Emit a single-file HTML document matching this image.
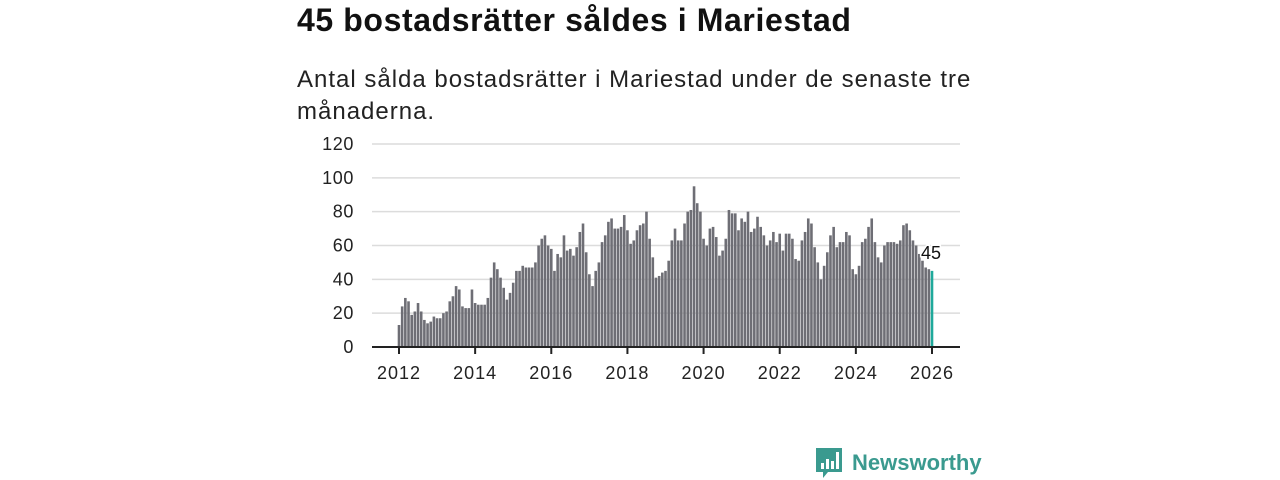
<!DOCTYPE html>
<html><head><meta charset="utf-8">
<style>
body{margin:0;width:1280px;height:480px;background:#fff;font-family:"Liberation Sans","DejaVu Sans",sans-serif;overflow:hidden;position:relative}
#title{position:absolute;left:297px;top:2px;font-size:32px;letter-spacing:0.6px;font-weight:bold;color:#111;margin:0}
#sub{position:absolute;left:297px;top:64px;font-size:24px;letter-spacing:1px;line-height:32px;color:#222;width:700px}
svg{position:absolute;left:0;top:0}
</style></head><body>
<h1 id="title">45 bostadsrätter såldes i Mariestad</h1>
<div id="sub">Antal sålda bostadsrätter i Mariestad under de senaste tre månaderna.</div>
<svg id="chart" width="1280" height="480"></svg>
<script>
const yTicks=[0,20,40,60,80,100,120];
const xTicks=[2012,2014,2016,2018,2020,2022,2024,2026];
const startYear=2012;
const values=[13,24,29,27,19,21,26,21,16,14,15,18,17,17,20,21,27,30,36,34,24,23,23,34,26,25,25,25,29,41,50,46,41,35,28,32,38,45,45,48,47,47,47,50,60,64,66,60,58,45,55,53,66,57,
58,54,59,68,73,56,43,36,45,50,62,66,74,76,70,70,71,78,69,61,63,69,72,73,80,64,53,41,42,44,45,51,63,70,63,63,73,80,81,95,85,80,64,60,70,71,65,54,57,64,81,79,79,69,76,74,80,68,70,77,
71,66,60,63,68,62,67,57,67,67,64,52,51,63,68,76,73,59,50,40,48,56,66,71,59,62,62,68,66,46,43,48,62,64,71,76,62,53,50,60,62,62,62,61,63,72,73,69,63,60,55,51,47,46,45];
const NS="http://www.w3.org/2000/svg";
const svg=document.getElementById('chart');
const x0=399,pxYear=(932-399)/14,y0=347,pxUnit=(347-144)/120;
const xs=i=>x0+i*pxYear/12;
const ys=v=>y0-v*pxUnit;
function el(t,a,txt){const e=document.createElementNS(NS,t);for(const k in a)e.setAttribute(k,a[k]);if(txt!==undefined)e.textContent=txt;svg.appendChild(e);return e;}
yTicks.forEach(t=>{
 const g=el('line',{x1:372,x2:960,y1:ys(t),y2:ys(t),stroke:'#dcdcdc','stroke-width':1.5});
 
 
 const l=el('text',{x:354,y:ys(t)+6,'text-anchor':'end','font-size':18,'letter-spacing':0.6,fill:'#222'},t);
 
 
});
values.forEach((v,i)=>{
 const last=i===values.length-1;
 const b=el('rect',{x:xs(i)-1.3,y:ys(v),width:2.6,height:v*pxUnit,fill:last?'#1fa99b':'#6e6e75'});
 
 
});
const ax=el('line',{x1:372,x2:960,y1:y0,y2:y0,stroke:'#222','stroke-width':2});


xTicks.forEach(t=>{
 const x=x0+(t-startYear)*pxYear;
 const tk=el('line',{x1:x,x2:x,y1:y0,y2:y0+7,stroke:'#222','stroke-width':2});
 
 
 const l=el('text',{x:x,y:379,'text-anchor':'middle','font-size':18,'letter-spacing':1,fill:'#222'},t);
 
 
});
const li=values.length-1;
const vl=el('text',{x:xs(li)-11,y:ys(values[li])-12,'font-size':18,fill:'#111',stroke:'#fff','stroke-width':3,'paint-order':'stroke'},values[li]);


const lg=el('g',{});


const ic=document.createElementNS(NS,'path');
ic.setAttribute('d','M816 448h26v24h-14l-5 6v-6h-7z');ic.setAttribute('fill','#3a9a8f');lg.appendChild(ic);
[[821,463,3,6],[826,459,3,10],[831,461,3,8],[836,452,3,17]].forEach(r=>{const q=document.createElementNS(NS,'rect');q.setAttribute('x',r[0]);q.setAttribute('y',r[1]);q.setAttribute('width',r[2]);q.setAttribute('height',r[3]);q.setAttribute('fill','#fff');lg.appendChild(q);});
const lt=document.createElementNS(NS,'text');
lt.setAttribute('x',852);lt.setAttribute('y',470);lt.setAttribute('font-size',22);lt.setAttribute('fill','#3a9a8f');lt.setAttribute('font-weight','bold');lt.textContent='Newsworthy';lg.appendChild(lt);
</script>
</body></html>
